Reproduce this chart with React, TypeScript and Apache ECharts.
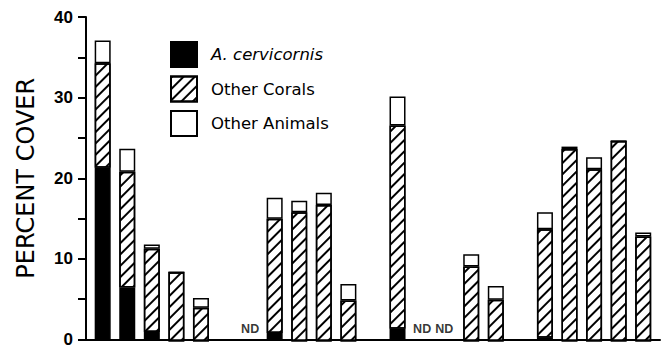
import React, { useEffect, useRef } from "react";
import * as echarts from "echarts";

// Bar positions along the site axis (gaps between site groups are empty slots)
const slotCount = 23;
const slots = [1, 2, 3, 4, 5, 8, 9, 10, 11, 13, 16, 17, 19, 20, 21, 22, 23];
const acervicornis = [21.4, 6.6, 1.1, 0, 0, 1.0, 0, 0, 0, 1.5, 0, 0, 0.4, 0, 0, 0, 0];
const otherCorals = [12.9, 14.3, 10.3, 8.5, 4.1, 14.1, 15.9, 16.8, 5.0, 25.1, 9.2, 5.1, 13.4, 23.7, 21.2, 24.7, 12.9];
const otherAnimals = [2.8, 2.85, 0.5, 0, 1.2, 2.6, 1.4, 1.5, 2.05, 3.6, 1.5, 1.7, 2.1, 0.3, 1.5, 0, 0.5];
// Sites with no data
const ndSlots = [7, 14, 14.9];
const seriesNames = ["A. cervicornis", "Other Corals", "Other Animals"];

const categories = Array.from({ length: slotCount }, (_, i) => String(i + 1));
const toSlots = (vals: number[]) => {
  const out: (number | null)[] = Array(slotCount).fill(null);
  slots.forEach((s, i) => (out[s - 1] = vals[i]));
  return out;
};

export default function App() {
  const ref = useRef<HTMLDivElement>(null);
  useEffect(() => {
    if (!ref.current) return;
    const chart = echarts.init(ref.current, null, { renderer: "svg" });
    const border = { borderColor: "#000", borderWidth: 1.5 };
    const barCommon = { type: "bar", stack: "cover", barWidth: 16, xAxisIndex: 1, yAxisIndex: 1 };
    chart.setOption({
      animation: false,
      backgroundColor: "#fff",
      grid: [
        // frame with the drawn axes
        { left: 86, right: 5, top: 17, bottom: 7, containLabel: false },
        // bar slots
        { left: 90.4, right: 9.5, top: 17, bottom: 7, containLabel: false },
      ],
      legend: {
        orient: "vertical",
        left: 165,
        top: 36,
        itemWidth: 26,
        itemHeight: 25,
        itemGap: 7.5,
        icon: "rect",
        data: seriesNames,
        formatter: (name: string) => (name === seriesNames[0] ? `{it|${name}}` : `{up|${name}}`),
        textStyle: {
          color: "#000",
          padding: [0, 0, 0, 9],
          rich: {
            it: { fontFamily: "DejaVu Sans", fontStyle: "italic", fontSize: 16.5, color: "#000" },
            up: { fontFamily: "DejaVu Sans", fontSize: 16.5, color: "#000" },
          },
        },
      },
      xAxis: [
        {
          type: "value",
          gridIndex: 0,
          min: 0.32,
          max: 23.68,
          axisLine: { show: true, lineStyle: { color: "#000", width: 2 } },
          axisTick: { show: false },
          axisLabel: { show: false },
          splitLine: { show: false },
        },
        {
          type: "category",
          gridIndex: 1,
          data: categories,
          axisLine: { show: false },
          axisTick: { show: false },
          axisLabel: { show: false },
          splitLine: { show: false },
        },
      ],
      yAxis: [
        {
          type: "value",
          gridIndex: 0,
          min: 0,
          max: 40,
          interval: 10,
          name: "PERCENT COVER",
          nameLocation: "middle",
          nameGap: 48,
          nameTextStyle: { fontFamily: "DejaVu Sans", fontSize: 24, color: "#000" },
          axisLine: { show: true, lineStyle: { color: "#000", width: 2 } },
          axisTick: { show: true, length: 8, lineStyle: { color: "#000", width: 2 } },
          minorTick: { show: true, splitNumber: 2, length: 8, lineStyle: { color: "#000", width: 2 } },
          axisLabel: {
            margin: 13,
            fontFamily: "Liberation Sans",
            fontWeight: "bold",
            fontSize: 17,
            color: "#000",
          },
          splitLine: { show: false },
        },
        {
          type: "value",
          gridIndex: 1,
          min: 0,
          max: 40,
          interval: 10,
          show: false,
          splitLine: { show: false },
        },
      ],
      series: [
        {
          ...barCommon,
          name: seriesNames[0],
          data: toSlots(acervicornis),
          itemStyle: { color: "#000", ...border },
        },
        {
          ...barCommon,
          name: seriesNames[1],
          data: toSlots(otherCorals),
          itemStyle: {
            color: "#fff",
            ...border,
            decal: {
              symbol: "rect",
              symbolSize: 1,
              color: "#000",
              dashArrayX: [1, 0],
              dashArrayY: [2, 6],
              rotation: -Math.PI / 4,
            },
          },
        },
        {
          ...barCommon,
          name: seriesNames[2],
          data: toSlots(otherAnimals),
          itemStyle: { color: "#fff", ...border },
        },
        {
          name: "ND",
          type: "scatter",
          xAxisIndex: 0,
          yAxisIndex: 0,
          silent: true,
          symbolSize: 1,
          itemStyle: { color: "rgba(0,0,0,0)" },
          data: ndSlots.map((s) => [s, 0]),
          label: {
            show: true,
            position: "top",
            distance: 4,
            formatter: "ND",
            fontFamily: "Liberation Sans",
            fontWeight: "bold",
            fontSize: 12.5,
            color: "#000",
          },
        },
      ],
    });
    return () => chart.dispose();
  }, []);
  return <div ref={ref} style={{ width: 665, height: 348, position: "absolute", left: 0, top: 0 }} />;
}
